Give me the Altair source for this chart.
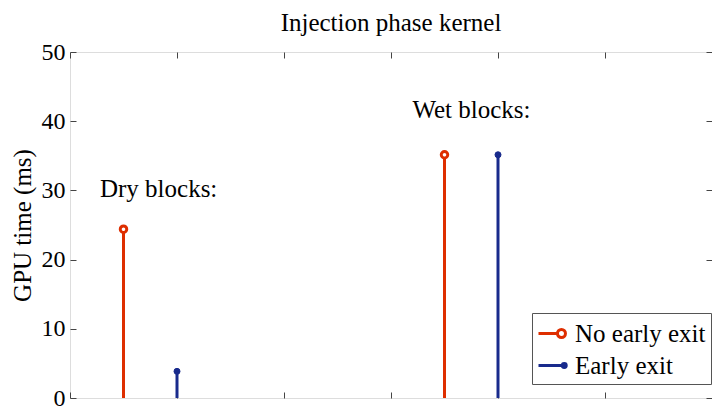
import altair as alt
import pandas as pd

# ---- data ----
series = ["No early exit", "Early exit", "No early exit", "Early exit"]
positions = [0.5, 1.0, 3.5, 4.0]
times_ms = [24.4, 3.85, 35.15, 35.15]

note_text = ["Dry blocks:", "Wet blocks:"]
note_x = [0.28, 3.2]
note_y = [29.1, 40.5]

x_ticks = [0, 1, 2, 3, 4, 5, 6]
y_ticks = [0, 10, 20, 30, 40, 50]
series_order = ["No early exit", "Early exit"]

RED = "#de2e00"
BLUE = "#182a8c"
FONT = "'Liberation Serif', 'Times New Roman', Times, 'DejaVu Serif', serif"
W, H = 642, 346

df = pd.DataFrame({"series": series, "pos": positions, "t": times_ms})
notes = pd.DataFrame({"text": note_text, "x": note_x, "y": note_y})

xs = alt.Scale(domain=[0, 6], nice=False)
ys = alt.Scale(domain=[0, 50], nice=False)

axis_common = dict(domain=False, grid=False, tickColor="#444444", tickWidth=1)

# axes: labels on left; inward ticks on all four sides
y_left_labels = alt.Axis(values=y_ticks, orient="left", ticks=False, domain=False, grid=False,
                         labelFont=FONT, labelFontSize=24, labelColor="black", labelPadding=5,
                         title="GPU time (ms)", titleFont=FONT, titleFontSize=25,
                         titleFontWeight="normal", titleColor="black", titleX=-48,
                         titleY=H / 2, titleBaseline="middle", titleAngle=270)
y_left_ticks = alt.Axis(values=y_ticks, orient="right", offset=-W, labels=False, title=None,
                        tickSize=6, **axis_common)
y_right_ticks = alt.Axis(values=y_ticks, orient="left", offset=-W, labels=False, title=None,
                         tickSize=6, **axis_common)
x_bottom_ticks = alt.Axis(values=x_ticks, orient="top", offset=-H, labels=False, title=None,
                          tickSize=6, **axis_common)
x_top_ticks = alt.Axis(values=x_ticks, orient="bottom", offset=-H, labels=False, title=None,
                       tickSize=6, **axis_common)

base = alt.Chart(df)

stems_red = base.transform_filter(alt.datum.series == "No early exit").mark_rule(
    color=RED, strokeWidth=3).encode(
    x=alt.X("pos:Q", scale=xs, axis=x_bottom_ticks),
    y=alt.Y("t:Q", scale=ys, axis=y_left_labels),
    y2=alt.Y2(datum=0),
)
stems_blue = base.transform_filter(alt.datum.series == "Early exit").mark_rule(
    color=BLUE, strokeWidth=3).encode(
    x=alt.X("pos:Q", scale=xs, axis=x_top_ticks),
    y=alt.Y("t:Q", scale=ys, axis=y_left_ticks),
    y2=alt.Y2(datum=0),
)
pts_red = base.transform_filter(alt.datum.series == "No early exit").mark_point(
    shape="circle", fill="white", fillOpacity=1, stroke=RED, strokeWidth=3, size=42, opacity=1).encode(
    x=alt.X("pos:Q", scale=xs, axis=None),
    y=alt.Y("t:Q", scale=ys, axis=y_right_ticks),
)
pts_blue = base.transform_filter(alt.datum.series == "Early exit").mark_point(
    shape="circle", filled=True, fill=BLUE, stroke=BLUE, strokeWidth=1, size=36, opacity=1).encode(
    x=alt.X("pos:Q", scale=xs, axis=None),
    y=alt.Y("t:Q", scale=ys, axis=None),
)

texts = alt.Chart(notes).mark_text(
    align="left", baseline="alphabetic", font=FONT, fontSize=25, color="black").encode(
    x=alt.X("x:Q", scale=xs, axis=None),
    y=alt.Y("y:Q", scale=ys, axis=None),
    text="text:N",
)

# legend-only layer (line + marker symbols like the original)
red_sym = "M-1,0L0.354,0M0.926,0A0.286,0.286 0 1 1 0.354,0A0.286,0.286 0 1 1 0.926,0Z"
blue_sym = "M-1,0L0.84,0M0.98,0A0.14,0.14 0 1 1 0.70,0A0.14,0.14 0 1 1 0.98,0Z"
leg = alt.Legend(title=None, orient="none", legendX=462, legendY=261,
                 fillColor="white", strokeColor="#555555", padding=5, rowPadding=3,
                 symbolSize=784, symbolStrokeWidth=3, symbolOpacity=1,
                 labelFont=FONT, labelFontSize=25, labelColor="black", labelOffset=7,
                 labelLimit=300, cornerRadius=0)
legend_layer = base.mark_point(opacity=0, size=1).encode(
    x=alt.X("pos:Q", scale=xs, axis=None),
    y=alt.Y("t:Q", scale=ys, axis=None),
    stroke=alt.Stroke("series:N", scale=alt.Scale(domain=series_order, range=[RED, BLUE]), legend=leg),
    fill=alt.Fill("series:N", scale=alt.Scale(domain=series_order, range=["white", BLUE]), legend=leg),
    shape=alt.Shape("series:N", scale=alt.Scale(domain=series_order, range=[red_sym, blue_sym]), legend=leg),
)

chart = alt.layer(stems_red, stems_blue, pts_red, pts_blue, texts, legend_layer).resolve_axis(
    x="independent", y="independent"
).properties(
    width=W, height=H,
    title=alt.TitleParams("Injection phase kernel", font=FONT, fontSize=25, fontWeight="normal",
                          color="black", anchor="middle", offset=4),
    autosize=alt.AutoSizeParams(type="none"),
    padding={"left": 70, "top": 52, "right": 0, "bottom": 9},
).configure_view(stroke="#444444", strokeWidth=1).configure(background="white")

chart.save("out.html", embed_options={"renderer": "svg", "actions": False})
